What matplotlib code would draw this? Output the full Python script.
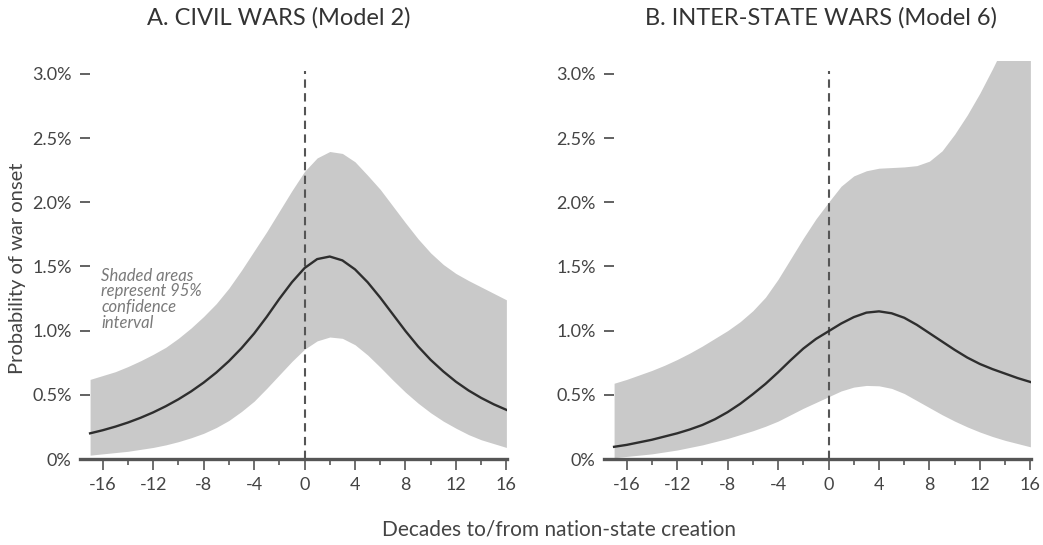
import matplotlib
matplotlib.use("Agg")
import matplotlib.pyplot as plt

plt.rcParams['font.family'] = ['Lato', 'DejaVu Sans']

# decades to/from nation-state creation
decades = list(range(-17, 17))

# A. civil wars (Model 2), probability in %
civil_mean = [0.200, 0.224, 0.252, 0.284, 0.321, 0.363, 0.411, 0.465, 0.526, 0.595,
              0.673, 0.762, 0.863, 0.977, 1.107, 1.247, 1.377, 1.487, 1.557, 1.577,
              1.547, 1.477, 1.377, 1.257, 1.127, 0.997, 0.877, 0.772, 0.682, 0.602,
              0.534, 0.476, 0.426, 0.383]
civil_upper = [0.62, 0.65, 0.68, 0.72, 0.765, 0.815, 0.87, 0.94, 1.02, 1.11, 1.21, 1.33,
               1.47, 1.62, 1.77, 1.93, 2.09, 2.24, 2.345, 2.395, 2.38, 2.315, 2.21, 2.10,
               1.97, 1.84, 1.715, 1.605, 1.515, 1.445, 1.39, 1.34, 1.29, 1.24]
civil_lower = [0.03, 0.04, 0.05, 0.06, 0.075, 0.09, 0.11, 0.135, 0.165, 0.20, 0.245, 0.30,
               0.37, 0.45, 0.55, 0.655, 0.76, 0.855, 0.92, 0.95, 0.94, 0.89, 0.81, 0.715,
               0.615, 0.52, 0.435, 0.36, 0.295, 0.24, 0.19, 0.15, 0.12, 0.09]

# B. inter-state wars (Model 6)
inter_mean = [0.095, 0.11, 0.13, 0.15, 0.175, 0.20, 0.23, 0.265, 0.31, 0.365, 0.43, 0.505,
              0.585, 0.675, 0.77, 0.86, 0.935, 0.995, 1.055, 1.105, 1.14, 1.15, 1.135, 1.10,
              1.045, 0.98, 0.915, 0.85, 0.79, 0.74, 0.70, 0.665, 0.63, 0.60]
inter_upper = [0.59, 0.62, 0.655, 0.69, 0.73, 0.775, 0.825, 0.88, 0.94, 1.00, 1.07, 1.155,
               1.26, 1.40, 1.56, 1.72, 1.87, 2.00, 2.125, 2.205, 2.245, 2.265, 2.27, 2.275,
               2.285, 2.32, 2.40, 2.53, 2.68, 2.85, 3.04, 3.24, 3.45, 3.66]
inter_lower = [0.01, 0.02, 0.03, 0.04, 0.055, 0.07, 0.09, 0.11, 0.135, 0.16, 0.19, 0.22,
               0.255, 0.295, 0.345, 0.395, 0.44, 0.485, 0.53, 0.56, 0.573, 0.57, 0.55, 0.51,
               0.455, 0.40, 0.345, 0.295, 0.25, 0.21, 0.175, 0.145, 0.12, 0.095]

titles = ["A. CIVIL WARS (Model 2)", "B. INTER-STATE WARS (Model 6)"]
y_ticks = [0, 0.5, 1.0, 1.5, 2.0, 2.5, 3.0]
y_labels = ["0%", "0.5%", "1.0%", "1.5%", "2.0%", "2.5%", "3.0%"]
x_ticks = [-16, -12, -8, -4, 0, 4, 8, 12, 16]
x_labels = ["-16", "-12", "-8", "-4", "0", "4", "8", "12", "16"]
note = "Shaded areas\nrepresent 95%\nconfidence\ninterval"

band_col = "#c9c9c9"
line_col = "#2e2e2e"
axis_col = "#555555"
text_col = "#444444"

fig = plt.figure(figsize=(10.43, 5.45), dpi=100)
W, H = 1043, 545
ax1 = fig.add_axes([80 / W, (H - 459) / H, 427 / W, 398 / H])
ax2 = fig.add_axes([604 / W, (H - 459) / H, 427 / W, 398 / H])

panels = [(ax1, civil_mean, civil_upper, civil_lower),
          (ax2, inter_mean, inter_upper, inter_lower)]

for ax, mean, upper, lower in panels:
    ax.fill_between(decades, lower, upper, color=band_col, lw=0, zorder=1)
    ax.plot(decades, mean, color=line_col, lw=1.7, zorder=3)
    ax.plot([0, 0], [0, 3.02], color=axis_col, lw=1.5, ls=(0, (4, 2.6)), zorder=2)
    ax.set_xlim(-17.8, 16.05)
    ax.set_ylim(0, 3.1)
    for s in ['top', 'right', 'left']:
        ax.spines[s].set_visible(False)
    ax.spines['bottom'].set_color(axis_col)
    ax.spines['bottom'].set_linewidth(2.4)
    ax.spines['bottom'].set_zorder(4)
    ax.set_yticks(y_ticks)
    ax.set_yticklabels(y_labels)
    ax.tick_params(axis='y', direction='in', length=7.5, width=1.3, color=axis_col,
                   pad=6, labelsize=13, labelcolor=text_col)
    ax.set_xticks(x_ticks)
    ax.set_xticklabels(x_labels)
    ax.set_xticks(list(range(-14, 16, 4)), minor=True)
    ax.tick_params(axis='x', which='major', direction='out', length=8, width=1.2,
                   color=axis_col, pad=5, labelsize=13, labelcolor=text_col)
    ax.tick_params(axis='x', which='minor', direction='out', length=4.5, width=1.2,
                   color=axis_col)
    ax.patch.set_alpha(0)

ax1.text(-16.1, 1.49, note, style='italic', fontsize=12, color="#7a7a7a",
         ha='left', va='top', linespacing=0.98)

fig.text(279 / W, (H - 18) / H, titles[0], ha='center', va='center',
         fontsize=17, color="#333333")
fig.text(821 / W, (H - 18) / H, titles[1], ha='center', va='center',
         fontsize=17, color="#333333")
fig.text(18 / W, (H - 268) / H, "Probability of war onset", rotation=90,
         ha='center', va='center', fontsize=14.5, color=text_col)
fig.text(559 / W, (H - 530) / H, "Decades to/from nation-state creation",
         ha='center', va='center', fontsize=15, color=text_col)

fig.savefig("out.png", dpi=100)
